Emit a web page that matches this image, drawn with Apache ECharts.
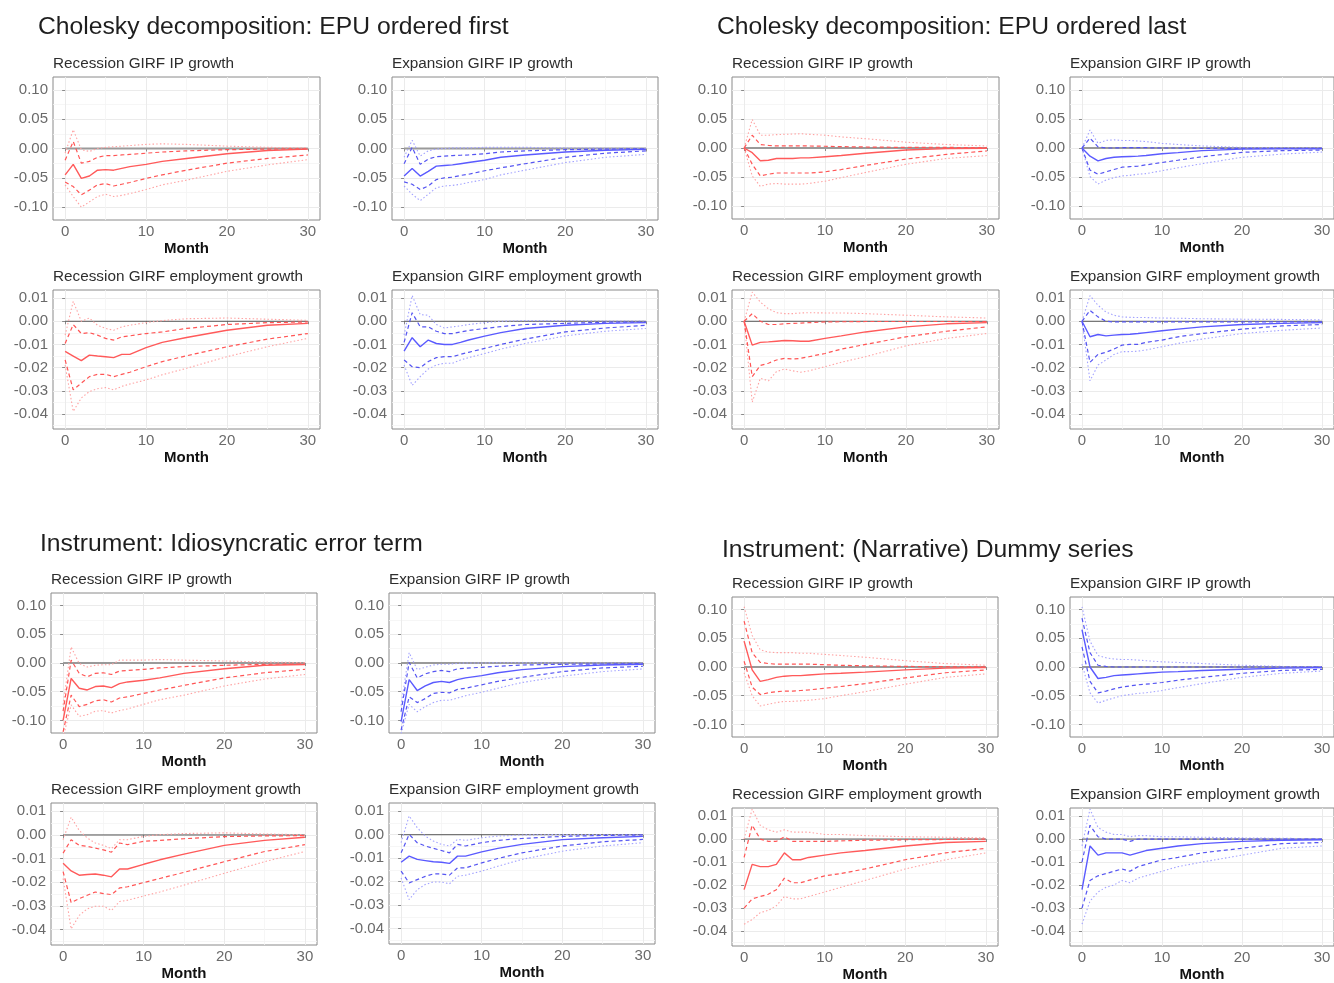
<!DOCTYPE html>
<html>
<head>
<meta charset="utf-8">
<script src="https://cdn.jsdelivr.net/npm/echarts@6/dist/echarts.min.js"></script>
<style>
  html, body { margin: 0; padding: 0; background: #fff; }
  #chart { width: 1334px; height: 983px; }
</style>
</head>
<body>
<div id="chart"></div>
<script>
// ---- horizon (months after the shock) and axis breaks ----
const MONTHS = [0, 1, 2, 3, 4, 5, 6, 7, 8, 10, 12, 15, 20, 25, 30];
const MONTH_TICKS = [0, 10, 20, 30];
const MONTH_MINOR = [5, 15, 25];
const IP_TICKS = [-0.10, -0.05, 0.00, 0.05, 0.10];
const IP_MINOR = [-0.075, -0.025, 0.025, 0.075];
const EMP_TICKS = [-0.04, -0.03, -0.02, -0.01, 0.00, 0.01];
const EMP_MINOR = [-0.045, -0.035, -0.025, -0.015, -0.005, 0.005];

const QUADRANT_TITLES = [
  'Cholesky decomposition: EPU ordered first',
  'Cholesky decomposition: EPU ordered last',
  'Instrument: Idiosyncratic error term',
  'Instrument: (Narrative) Dummy series'
];
const PANEL_TITLES = [
  'Recession GIRF IP growth', 'Expansion GIRF IP growth',
  'Recession GIRF employment growth', 'Expansion GIRF employment growth'
];

// ---- GIRFs: median, 68% band (hi/lo), 90% band (hi/lo) ----
// Cholesky, EPU ordered first
const cfRecIP_med  = [-0.045,-0.027,-0.051,-0.047,-0.037,-0.036,-0.037,-0.034,-0.031,-0.027,-0.022,-0.017,-0.009,-0.0035,-0.001];
const cfRecIP_hi68 = [-0.02,0.012,-0.025,-0.022,-0.015,-0.012,-0.012,-0.011,-0.01,-0.008,-0.006,-0.004,-0.002,-0.001,-0.0005];
const cfRecIP_lo68 = [-0.057,-0.065,-0.079,-0.071,-0.062,-0.06,-0.064,-0.061,-0.058,-0.051,-0.045,-0.037,-0.025,-0.017,-0.011];
const cfRecIP_hi90 = [-0.008,0.032,-0.002,-0.005,0.0,0.002,0.003,0.004,0.005,0.007,0.008,0.007,0.004,0.002,0.001];
const cfRecIP_lo90 = [-0.062,-0.082,-0.1,-0.091,-0.082,-0.078,-0.082,-0.08,-0.077,-0.07,-0.062,-0.054,-0.039,-0.028,-0.019];

const cfExpIP_med  = [-0.047,-0.034,-0.047,-0.039,-0.03,-0.029,-0.028,-0.026,-0.024,-0.02,-0.015,-0.011,-0.006,-0.003,-0.0015];
const cfExpIP_hi68 = [-0.026,0.002,-0.027,-0.018,-0.014,-0.013,-0.012,-0.0115,-0.011,-0.009,-0.006,-0.004,-0.002,-0.001,-0.0005];
const cfExpIP_lo68 = [-0.057,-0.061,-0.07,-0.064,-0.053,-0.05,-0.049,-0.046,-0.044,-0.038,-0.033,-0.026,-0.015,-0.008,-0.004];
const cfExpIP_hi90 = [-0.015,0.014,-0.013,-0.004,-0.001,0.0,0.001,0.001,0.001,0.002,0.002,0.002,0.001,0.0005,0.0005];
const cfExpIP_lo90 = [-0.064,-0.078,-0.089,-0.078,-0.067,-0.064,-0.063,-0.061,-0.058,-0.053,-0.045,-0.037,-0.024,-0.015,-0.01];

const cfRecEmp_med  = [-0.013,-0.015,-0.017,-0.0146,-0.015,-0.0153,-0.0157,-0.0143,-0.0143,-0.0114,-0.0091,-0.007,-0.0039,-0.0017,-0.0009];
const cfRecEmp_hi68 = [-0.0096,-0.0014,-0.0053,-0.0049,-0.006,-0.0074,-0.0081,-0.0067,-0.0063,-0.0053,-0.0046,-0.0031,-0.0014,-0.0006,-0.0003];
const cfRecEmp_lo68 = [-0.0167,-0.0296,-0.0267,-0.0239,-0.0229,-0.0229,-0.0239,-0.0229,-0.022,-0.0196,-0.0174,-0.0149,-0.011,-0.0077,-0.0053];
const cfRecEmp_hi90 = [-0.006,0.0086,0.0,0.0014,-0.0017,-0.0031,-0.0039,-0.0024,-0.0017,-0.0006,0.0003,0.0011,0.0014,0.0009,0.0004];
const cfRecEmp_lo90 = [-0.0189,-0.0389,-0.0331,-0.0303,-0.0291,-0.0286,-0.0296,-0.0281,-0.0271,-0.0253,-0.0231,-0.0203,-0.0153,-0.011,-0.0074];

const cfExpEmp_med  = [-0.0129,-0.0071,-0.011,-0.0081,-0.0096,-0.01,-0.01,-0.0091,-0.0081,-0.0064,-0.0049,-0.0031,-0.0017,-0.0009,-0.0006];
const cfExpEmp_hi68 = [-0.0091,0.0037,-0.0024,-0.0024,-0.0043,-0.0053,-0.0053,-0.0046,-0.004,-0.0031,-0.0023,-0.0014,-0.0009,-0.0004,-0.0003];
const cfExpEmp_lo68 = [-0.0167,-0.0196,-0.02,-0.0174,-0.0157,-0.0153,-0.0153,-0.0143,-0.0134,-0.0117,-0.01,-0.0077,-0.0046,-0.0029,-0.0017];
const cfExpEmp_hi90 = [-0.006,0.0111,0.0029,0.0026,-0.0014,-0.0029,-0.0024,-0.002,-0.0014,-0.0006,0.0,0.0003,0.0003,0.0001,0.0001];
const cfExpEmp_lo90 = [-0.0189,-0.0277,-0.0239,-0.0206,-0.0189,-0.0181,-0.0181,-0.0167,-0.0157,-0.0139,-0.012,-0.0096,-0.0063,-0.0043,-0.0031];

// Cholesky, EPU ordered last
const clRecIP_med  = [0,-0.008,-0.022,-0.021,-0.018,-0.018,-0.018,-0.017,-0.017,-0.015,-0.013,-0.009,-0.0035,-0.001,-0.0005];
const clRecIP_hi68 = [0,0.022,0.006,0.0045,0.0035,0.0035,0.0035,0.0035,0.0035,0.003,0.0023,0.0017,0.001,0.001,0.0005];
const clRecIP_lo68 = [0,-0.028,-0.048,-0.045,-0.043,-0.043,-0.043,-0.043,-0.043,-0.041,-0.037,-0.03,-0.019,-0.011,-0.005];
const clRecIP_hi90 = [0,0.049,0.022,0.022,0.023,0.0235,0.024,0.0245,0.0235,0.022,0.019,0.016,0.01,0.006,0.0035];
const clRecIP_lo90 = [0,-0.048,-0.066,-0.062,-0.061,-0.062,-0.062,-0.062,-0.061,-0.057,-0.051,-0.042,-0.028,-0.018,-0.013];

const clExpIP_med  = [0,-0.014,-0.022,-0.018,-0.016,-0.015,-0.0145,-0.014,-0.013,-0.01,-0.008,-0.0045,-0.002,-0.0015,-0.0015];
const clExpIP_hi68 = [0,0.017,0.002,0,0,0.0005,0.0005,0.0005,0.0005,0,0,-0.0005,-0.0005,-0.0005,-0.0005];
const clExpIP_lo68 = [0,-0.038,-0.045,-0.041,-0.037,-0.033,-0.032,-0.031,-0.029,-0.025,-0.021,-0.015,-0.0075,-0.0045,-0.0035];
const clExpIP_hi90 = [0,0.031,0.008,0.013,0.014,0.013,0.013,0.012,0.011,0.008,0.006,0.0035,0.001,0.0005,0.0005];
const clExpIP_lo90 = [0,-0.049,-0.062,-0.055,-0.051,-0.048,-0.047,-0.045,-0.044,-0.039,-0.034,-0.027,-0.016,-0.0105,-0.007];

const clRecEmp_med  = [0,-0.0103,-0.0091,-0.0089,-0.0086,-0.0083,-0.0084,-0.0086,-0.0086,-0.0074,-0.0063,-0.0046,-0.0024,-0.0011,-0.0006];
const clRecEmp_hi68 = [0,0.0033,0,-0.0014,-0.0014,-0.0011,-0.0009,-0.0008,-0.0006,-0.0003,-0.0002,-0.0001,-0.0001,-0.0001,-0.0001];
const clRecEmp_lo68 = [0,-0.0239,-0.0191,-0.0181,-0.0167,-0.016,-0.0163,-0.016,-0.0153,-0.0139,-0.012,-0.01,-0.0067,-0.0043,-0.0024];
const clRecEmp_hi90 = [0,0.0126,0.0083,0.0054,0.0037,0.0033,0.0033,0.0036,0.0037,0.0036,0.0036,0.0033,0.0026,0.0019,0.0014];
const clRecEmp_lo90 = [0,-0.0349,-0.0246,-0.0257,-0.0217,-0.0206,-0.0214,-0.022,-0.0214,-0.0196,-0.0177,-0.0153,-0.0106,-0.0074,-0.0053];

const clExpEmp_med  = [0,-0.0067,-0.0057,-0.0063,-0.006,-0.0057,-0.0056,-0.0053,-0.0049,-0.0041,-0.0034,-0.0024,-0.0014,-0.0009,-0.0006];
const clExpEmp_hi68 = [0,0.0047,0.0019,0,-0.0003,-0.0003,-0.0003,-0.0003,-0.0003,-0.0003,-0.0003,-0.0003,-0.0003,-0.0003,-0.0003];
const clExpEmp_lo68 = [0,-0.0177,-0.0143,-0.0134,-0.012,-0.0103,-0.01,-0.01,-0.0091,-0.0081,-0.0067,-0.0053,-0.0034,-0.002,-0.0014];
const clExpEmp_hi90 = [0,0.0111,0.0069,0.004,0.0026,0.0019,0.0017,0.0016,0.0016,0.0014,0.0013,0.0011,0.0009,0.0008,0.0006];
const clExpEmp_lo90 = [0,-0.0257,-0.0189,-0.0167,-0.0143,-0.0131,-0.0131,-0.0129,-0.0124,-0.011,-0.0096,-0.0077,-0.0053,-0.0039,-0.0029];

// Instrument: idiosyncratic error term
const ieRecIP_med  = [-0.1,-0.027,-0.044,-0.047,-0.041,-0.04,-0.043,-0.036,-0.033,-0.03,-0.026,-0.018,-0.01,-0.004,-0.0025];
const ieRecIP_hi68 = [-0.084,0.005,-0.018,-0.024,-0.018,-0.017,-0.02,-0.014,-0.013,-0.011,-0.0086,-0.0063,-0.004,-0.0023,-0.0017];
const ieRecIP_lo68 = [-0.12,-0.056,-0.076,-0.072,-0.066,-0.064,-0.068,-0.061,-0.059,-0.053,-0.047,-0.039,-0.026,-0.017,-0.011];
const ieRecIP_hi90 = [-0.073,0.028,-0.001,-0.007,-0.004,-0.003,-0.003,0.005,0.005,0.005,0.006,0.005,0.0035,0.0017,0.0006];
const ieRecIP_lo90 = [-0.13,-0.073,-0.093,-0.09,-0.084,-0.083,-0.087,-0.083,-0.08,-0.072,-0.064,-0.056,-0.04,-0.028,-0.02];

const ieExpIP_med  = [-0.102,-0.029,-0.048,-0.04,-0.034,-0.032,-0.034,-0.029,-0.026,-0.022,-0.017,-0.0115,-0.0063,-0.0035,-0.0023];
const ieExpIP_hi68 = [-0.085,0.001,-0.026,-0.019,-0.015,-0.013,-0.015,-0.01,-0.009,-0.0075,-0.0057,-0.0035,-0.0023,-0.0017,-0.001];
const ieExpIP_lo68 = [-0.117,-0.059,-0.069,-0.062,-0.053,-0.051,-0.052,-0.046,-0.044,-0.038,-0.032,-0.025,-0.015,-0.0086,-0.0057];
const ieExpIP_hi90 = [-0.074,0.018,-0.0115,-0.0075,-0.0035,-0.0023,-0.0023,-0.0006,0,0,0.0005,0.0005,0,0,0];
const ieExpIP_lo90 = [-0.123,-0.072,-0.085,-0.076,-0.069,-0.065,-0.065,-0.061,-0.057,-0.051,-0.044,-0.034,-0.023,-0.015,-0.0103];

const ieRecEmp_med  = [-0.012,-0.0152,-0.017,-0.0167,-0.0165,-0.017,-0.0177,-0.0144,-0.0144,-0.0124,-0.0105,-0.0081,-0.0044,-0.0023,-0.001];
const ieRecEmp_hi68 = [-0.0077,-0.002,-0.0044,-0.0048,-0.0056,-0.0063,-0.0073,-0.0034,-0.0041,-0.0027,-0.0023,-0.0016,-0.0007,-0.0004,-0.0003];
const ieRecEmp_lo68 = [-0.0155,-0.0286,-0.0269,-0.0255,-0.0241,-0.0248,-0.0252,-0.0224,-0.0219,-0.0201,-0.0184,-0.0158,-0.0113,-0.007,-0.0041];
const ieRecEmp_hi90 = [-0.002,0.0075,0.0019,-0.0013,-0.0034,-0.0044,-0.0058,-0.002,-0.002,-0.0006,0.0001,0.0006,0.0009,0.0004,0.0001];
const ieRecEmp_lo90 = [-0.0184,-0.0397,-0.034,-0.0312,-0.0301,-0.0301,-0.0319,-0.0281,-0.0276,-0.0258,-0.0241,-0.0212,-0.0162,-0.0113,-0.007];

const ieExpEmp_med  = [-0.0117,-0.0091,-0.0105,-0.011,-0.0115,-0.0117,-0.0122,-0.0091,-0.0091,-0.0073,-0.0058,-0.0041,-0.0021,-0.0013,-0.0007];
const ieExpEmp_hi68 = [-0.0077,0.0001,-0.0034,-0.0048,-0.0058,-0.0067,-0.0077,-0.0041,-0.0048,-0.0034,-0.0024,-0.0016,-0.0007,-0.0003,-0.0001];
const ieExpEmp_lo68 = [-0.0155,-0.0205,-0.0191,-0.0177,-0.0167,-0.0167,-0.0172,-0.0141,-0.0141,-0.012,-0.0101,-0.0077,-0.0048,-0.003,-0.002];
const ieExpEmp_hi90 = [-0.0034,0.008,0.003,-0.0006,-0.0027,-0.0041,-0.0048,-0.002,-0.0024,-0.0013,-0.0006,-0.0001,0.0001,0.0001,0];
const ieExpEmp_lo90 = [-0.0184,-0.0276,-0.0234,-0.0212,-0.0201,-0.0201,-0.0209,-0.0177,-0.0172,-0.0155,-0.0134,-0.0105,-0.007,-0.0048,-0.0034];

// Instrument: (narrative) dummy series
const ndRecIP_med  = [0.045,-0.005,-0.025,-0.022,-0.018,-0.016,-0.015,-0.015,-0.014,-0.012,-0.011,-0.009,-0.005,-0.002,-0.001];
const ndRecIP_hi68 = [0.08,0.025,0.008,0.006,0.005,0.005,0.005,0.005,0.005,0.004,0.003,0.002,0.001,0.0005,0];
const ndRecIP_lo68 = [0.01,-0.035,-0.048,-0.045,-0.043,-0.042,-0.042,-0.041,-0.04,-0.037,-0.034,-0.029,-0.019,-0.01,-0.005];
const ndRecIP_hi90 = [0.105,0.055,0.03,0.026,0.025,0.025,0.025,0.024,0.024,0.022,0.02,0.017,0.011,0.006,0.003];
const ndRecIP_lo90 = [-0.01,-0.05,-0.068,-0.065,-0.062,-0.06,-0.06,-0.059,-0.058,-0.055,-0.05,-0.043,-0.03,-0.018,-0.012];

const ndExpIP_med  = [0.065,0.0,-0.02,-0.018,-0.015,-0.014,-0.013,-0.012,-0.011,-0.009,-0.008,-0.006,-0.004,-0.002,-0.001];
const ndExpIP_hi68 = [0.085,0.025,0.003,0.001,0,0,0,0,0,0,0,0,0,0,0];
const ndExpIP_lo68 = [0.035,-0.025,-0.045,-0.042,-0.038,-0.035,-0.033,-0.031,-0.03,-0.027,-0.023,-0.018,-0.011,-0.006,-0.004];
const ndExpIP_hi90 = [0.105,0.045,0.02,0.016,0.014,0.013,0.013,0.012,0.011,0.009,0.008,0.006,0.003,0.001,0.0005];
const ndExpIP_lo90 = [0.005,-0.045,-0.063,-0.058,-0.054,-0.05,-0.048,-0.046,-0.045,-0.041,-0.036,-0.029,-0.018,-0.011,-0.007];

const ndRecEmp_med  = [-0.022,-0.011,-0.012,-0.012,-0.011,-0.006,-0.009,-0.009,-0.008,-0.007,-0.006,-0.005,-0.003,-0.0015,-0.001];
const ndRecEmp_hi68 = [-0.008,0.006,0.0,-0.001,-0.001,0.001,-0.001,-0.001,-0.001,-0.001,-0.0008,-0.0005,-0.0003,-0.0002,0];
const ndRecEmp_lo68 = [-0.03,-0.026,-0.025,-0.024,-0.022,-0.017,-0.019,-0.019,-0.018,-0.016,-0.015,-0.013,-0.009,-0.006,-0.004];
const ndRecEmp_hi90 = [0.0,0.013,0.006,0.004,0.003,0.004,0.003,0.003,0.003,0.002,0.002,0.0015,0.001,0.0008,0.0005];
const ndRecEmp_lo90 = [-0.037,-0.035,-0.032,-0.031,-0.029,-0.025,-0.026,-0.026,-0.025,-0.023,-0.021,-0.018,-0.013,-0.009,-0.006];

const ndExpEmp_med  = [-0.022,-0.003,-0.007,-0.006,-0.006,-0.006,-0.007,-0.006,-0.005,-0.004,-0.003,-0.002,-0.001,-0.0005,-0.0003];
const ndExpEmp_hi68 = [-0.01,0.006,0.001,0,0,0,-0.001,0,0,0,0,0,0,0,0];
const ndExpEmp_lo68 = [-0.03,-0.018,-0.016,-0.015,-0.014,-0.013,-0.014,-0.012,-0.011,-0.009,-0.008,-0.006,-0.004,-0.002,-0.0015];
const ndExpEmp_hi90 = [-0.003,0.013,0.005,0.003,0.002,0.002,0.001,0.0015,0.0015,0.001,0.001,0.0008,0.0005,0.0003,0.0002];
const ndExpEmp_lo90 = [-0.037,-0.027,-0.023,-0.021,-0.02,-0.018,-0.019,-0.017,-0.016,-0.014,-0.012,-0.01,-0.007,-0.004,-0.003];

// ---- panel layout: [left, top, width, height] of each plot box ----
const PANELS = [
  { q: 0, t: 0, box: [53, 77, 267, 143],  s: [cfRecIP_med, cfRecIP_hi68, cfRecIP_lo68, cfRecIP_hi90, cfRecIP_lo90] },
  { q: 0, t: 1, box: [392, 77, 266, 143], s: [cfExpIP_med, cfExpIP_hi68, cfExpIP_lo68, cfExpIP_hi90, cfExpIP_lo90] },
  { q: 0, t: 2, box: [53, 290, 267, 139], s: [cfRecEmp_med, cfRecEmp_hi68, cfRecEmp_lo68, cfRecEmp_hi90, cfRecEmp_lo90] },
  { q: 0, t: 3, box: [392, 290, 266, 139], s: [cfExpEmp_med, cfExpEmp_hi68, cfExpEmp_lo68, cfExpEmp_hi90, cfExpEmp_lo90] },
  { q: 1, t: 0, box: [732, 77, 267, 142], s: [clRecIP_med, clRecIP_hi68, clRecIP_lo68, clRecIP_hi90, clRecIP_lo90] },
  { q: 1, t: 1, box: [1070, 77, 264, 142], s: [clExpIP_med, clExpIP_hi68, clExpIP_lo68, clExpIP_hi90, clExpIP_lo90] },
  { q: 1, t: 2, box: [732, 290, 267, 139], s: [clRecEmp_med, clRecEmp_hi68, clRecEmp_lo68, clRecEmp_hi90, clRecEmp_lo90] },
  { q: 1, t: 3, box: [1070, 290, 264, 139], s: [clExpEmp_med, clExpEmp_hi68, clExpEmp_lo68, clExpEmp_hi90, clExpEmp_lo90] },
  { q: 2, t: 0, box: [51, 593, 266, 140], s: [ieRecIP_med, ieRecIP_hi68, ieRecIP_lo68, ieRecIP_hi90, ieRecIP_lo90] },
  { q: 2, t: 1, box: [389, 593, 266, 140], s: [ieExpIP_med, ieExpIP_hi68, ieExpIP_lo68, ieExpIP_hi90, ieExpIP_lo90] },
  { q: 2, t: 2, box: [51, 803, 266, 142], s: [ieRecEmp_med, ieRecEmp_hi68, ieRecEmp_lo68, ieRecEmp_hi90, ieRecEmp_lo90] },
  { q: 2, t: 3, box: [389, 803, 266, 141], s: [ieExpEmp_med, ieExpEmp_hi68, ieExpEmp_lo68, ieExpEmp_hi90, ieExpEmp_lo90] },
  { q: 3, t: 0, box: [732, 597, 266, 140], s: [ndRecIP_med, ndRecIP_hi68, ndRecIP_lo68, ndRecIP_hi90, ndRecIP_lo90] },
  { q: 3, t: 1, box: [1070, 597, 264, 140], s: [ndExpIP_med, ndExpIP_hi68, ndExpIP_lo68, ndExpIP_hi90, ndExpIP_lo90] },
  { q: 3, t: 2, box: [732, 808, 266, 139], s: [ndRecEmp_med, ndRecEmp_hi68, ndRecEmp_lo68, ndRecEmp_hi90, ndRecEmp_lo90] },
  { q: 3, t: 3, box: [1070, 808, 264, 139], s: [ndExpEmp_med, ndExpEmp_hi68, ndExpEmp_lo68, ndExpEmp_hi90, ndExpEmp_lo90] }
];
const QUADRANT_POS = [[38, 15], [717, 15], [40, 532], [722, 538]];

const FONT = '"Liberation Sans", Arial, Helvetica, sans-serif';
const RED  = { med: '#ff5a5a', band68: '#ff5555', band90: '#ffa3a3' };
const BLUE = { med: '#5a5aff', band68: '#5555f2', band90: '#a3a3ff' };
const MAJOR_GRID = '#ebebeb';
const MINOR_GRID = '#f4f4f4';
const BORDER = '#8a8a8a';
const TICK_TEXT = '#6a6a6a';

const IP_RANGE  = [-0.122, 0.122];
const EMP_RANGE = [-0.0465, 0.0135];

const pairs = vals => MONTHS.map((m, i) => [m, vals[i]]);

const grid = [], xAxis = [], yAxis = [], series = [], title = [];

QUADRANT_TITLES.forEach((txt, i) => {
  title.push({
    text: txt, left: QUADRANT_POS[i][0], top: QUADRANT_POS[i][1], padding: 0,
    textStyle: { fontFamily: FONT, fontSize: 24.7, fontWeight: 'normal', color: '#1e1e1e' }
  });
});

PANELS.forEach((p, i) => {
  const isIP = p.t < 2;
  const col = (p.t % 2 === 0) ? RED : BLUE;
  const range = isIP ? IP_RANGE : EMP_RANGE;
  const [l, t, w, h] = p.box;

  title.push({
    text: PANEL_TITLES[p.t], left: l, top: t - 21, padding: 0,
    textStyle: { fontFamily: FONT, fontSize: 15.3, fontWeight: 'normal', color: '#2e2e2e' }
  });

  grid.push({ left: l, top: t, width: w, height: h, show: true,
              borderColor: BORDER, borderWidth: 1, backgroundColor: 'transparent' });

  // major x axis with labels, ticks and gridlines
  xAxis.push({
    type: 'value', gridIndex: i, min: -1.5, max: 31.5,
    name: 'Month', nameLocation: 'middle', nameGap: 21,
    nameTextStyle: { fontFamily: FONT, fontSize: 15, fontWeight: 'bold', color: '#111' },
    axisLine: { show: false },
    axisTick: { show: true, customValues: MONTH_TICKS, length: 3, lineStyle: { color: BORDER } },
    axisLabel: { customValues: MONTH_TICKS, margin: 4, fontFamily: FONT, fontSize: 15, color: TICK_TEXT },
    splitLine: { show: true, lineStyle: { color: MAJOR_GRID, width: 1 } }
  });
  // minor x gridlines
  xAxis.push({
    type: 'value', gridIndex: i, min: -1.5, max: 31.5,
    axisLine: { show: false }, axisLabel: { show: false },
    axisTick: { show: true, customValues: MONTH_MINOR, lineStyle: { opacity: 0 } },
    splitLine: { show: true, lineStyle: { color: MINOR_GRID, width: 0.8 } }
  });

  const ticks = isIP ? IP_TICKS : EMP_TICKS;
  const minor = isIP ? IP_MINOR : EMP_MINOR;
  yAxis.push({
    type: 'value', gridIndex: i, min: range[0], max: range[1],
    axisLine: { show: false },
    axisTick: { show: true, customValues: ticks, length: 3, lineStyle: { color: BORDER } },
    axisLabel: { customValues: ticks, margin: 5, fontFamily: FONT, fontSize: 15, color: TICK_TEXT,
                 formatter: v => v.toFixed(2) },
    splitLine: { show: true, lineStyle: { color: MAJOR_GRID, width: 1 } }
  });
  yAxis.push({
    type: 'value', gridIndex: i, min: range[0], max: range[1],
    axisLine: { show: false }, axisLabel: { show: false },
    axisTick: { show: true, customValues: minor, lineStyle: { opacity: 0 } },
    splitLine: { show: true, lineStyle: { color: MINOR_GRID, width: 0.8 } }
  });

  const ax = { xAxisIndex: 2 * i, yAxisIndex: 2 * i };
  const base = { type: 'line', showSymbol: false, silent: true, animation: false, ...ax };

  // zero reference line
  series.push({ ...base, data: [[0, 0], [30, 0]],
    lineStyle: isIP ? { color: '#9a9a9a', width: 2.2 } : { color: '#555', width: 1 } });
  // 90% band (dotted)
  series.push({ ...base, data: pairs(p.s[3]), lineStyle: { color: col.band90, width: 1.1, type: [1.5, 2.2] } });
  series.push({ ...base, data: pairs(p.s[4]), lineStyle: { color: col.band90, width: 1.1, type: [1.5, 2.2] } });
  // 68% band (dashed)
  series.push({ ...base, data: pairs(p.s[1]), lineStyle: { color: col.band68, width: 1.2, type: [4, 3] } });
  series.push({ ...base, data: pairs(p.s[2]), lineStyle: { color: col.band68, width: 1.2, type: [4, 3] } });
  // median response
  series.push({ ...base, data: pairs(p.s[0]), lineStyle: { color: col.med, width: 1.4 } });
});

const chart = echarts.init(document.getElementById('chart'), null, { renderer: 'canvas' });
chart.setOption({
  backgroundColor: '#ffffff',
  animation: false,
  textStyle: { fontFamily: FONT },
  title, grid, xAxis, yAxis, series
});
</script>
</body>
</html>
